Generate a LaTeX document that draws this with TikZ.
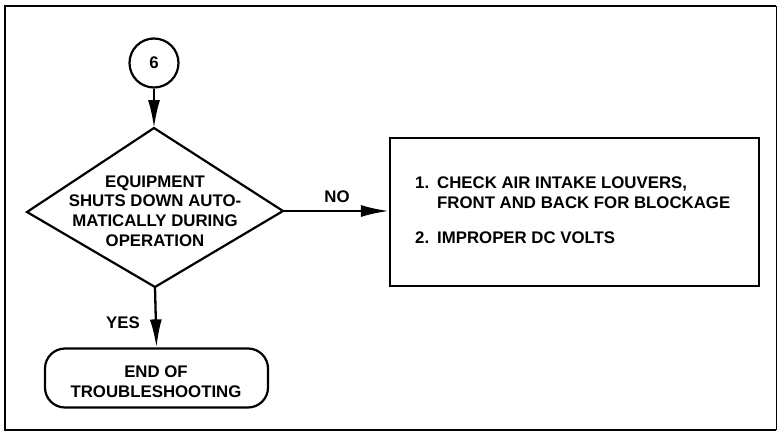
\documentclass[tikz,border=0pt]{standalone}
\usepackage{fontspec}
\setmainfont{Liberation Sans}
\usetikzlibrary{arrows.meta}
\begin{document}
\begin{tikzpicture}[x=1pt,y=-1pt,
  lbl/.style={font=\fontsize{16.8}{19.6}\selectfont\bfseries, inner sep=0pt},
  shp/.style={draw=black, line width=2.2pt},
  conn/.style={line width=2.3pt, -{Latex[length=28pt,width=12pt]}},
  frame/.style={line width=2.8pt}]
\useasboundingbox (0,0) rectangle (777,434);
% frame
\draw[frame] (776,6) -- (5,6) -- (5,430) -- (776,430);
\draw[line width=0.6pt] (776,6) -- (776,430);
% connector circle
\node[shp, circle, minimum size=49pt, inner sep=0pt, lbl] (c6) at (154,63) {6};
% diamond
\coordinate (dt) at (154,128);
\coordinate (dr) at (283,211);
\coordinate (db) at (155,287);
\coordinate (dl) at (27,212);
\draw[shp, line join=miter] (dt) -- (dr) -- (db) -- (dl) -- cycle;
\node[lbl, align=center] (dtext) at (155,211) {EQUIPMENT\\SHUTS DOWN AUTO-\\MATICALLY DURING\\OPERATION};
% end box
\node[shp, rounded corners=20pt, minimum width=223pt, minimum height=59pt, inner sep=0pt] (endb) at (156.5,378) {};
\node[lbl, align=center] (endt) at (156,382) {END OF\\TROUBLESHOOTING};
% action box
\node[shp, minimum width=369pt, minimum height=148pt, inner sep=0pt] (act) at (574.5,212) {};
\node[lbl, anchor=base west] (a1) at (415,188) {\makebox[22pt][l]{1.}CHECK AIR INTAKE LOUVERS,};
\node[lbl, anchor=base west] (a2) at (437,208) {FRONT AND BACK FOR BLOCKAGE};
\node[lbl, anchor=base west] (a3) at (415,243) {\makebox[22pt][l]{2.}IMPROPER DC VOLTS};
% connectors
\draw[conn] (c6.south) -- (dt);
\draw[conn] (db) -- (endb.north);
\draw[conn] (dr) -- (act.west |- dr);
\node[lbl] (no) at (337,197) {NO};
\node[lbl] (yes) at (123,323) {YES};
\end{tikzpicture}
\end{document}
